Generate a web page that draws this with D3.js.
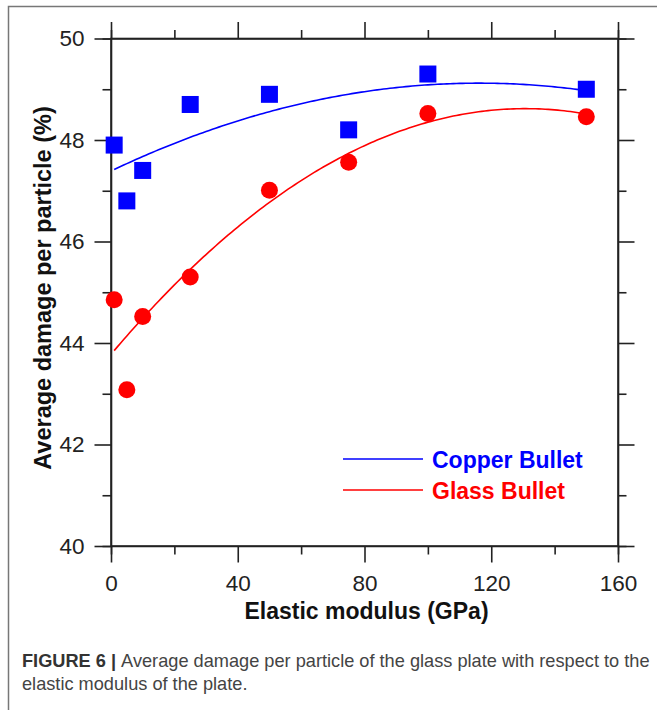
<!DOCTYPE html>
<html>
<head>
<meta charset="utf-8">
<script src="https://cdn.jsdelivr.net/npm/d3@7"></script>
<style>
  body { margin: 0; background: #fff; }
  svg { display: block; font-family: "Liberation Sans", Arial, sans-serif; }
</style>
</head>
<body>
<div id="chart"></div>
<script>
///////////////////// Data ////////////////////////
var modulus = [1, 5, 10, 25, 50, 75, 100, 150];
var copper = [47.9, 46.8, 47.4, 48.7, 48.9, 48.2, 49.3, 49.0];
var glass = [44.85, 43.08, 44.52, 45.3, 47.01, 47.56, 48.52, 48.46];

var xTicks = [0, 40, 80, 120, 160];
var yTicks = [40, 42, 44, 46, 48, 50];
var seriesNames = ["Copper Bullet", "Glass Bullet"];
var seriesColors = ["#0000ff", "#ff0000"];
//////////////////////////////////////////////////

var width = 657, height = 710;
var margin = {left: 111, right: 657 - 618, top: 38.5, bottom: 710 - 546};

var x = d3.scaleLinear().domain([0, 160]).range([margin.left, width - margin.right]);
var y = d3.scaleLinear().domain([40, 50]).range([height - margin.bottom, margin.top]);

var svg = d3.select("#chart").append("svg")
    .attr("width", width)
    .attr("height", height);

// figure frame (top + left border)
svg.append("path")
    .attr("d", "M8.5,710 V6.5 H657")
    .attr("fill", "none")
    .attr("stroke", "#777")
    .attr("stroke-width", 1.5);

// quadratic least squares fit, like the trend lines in the figure
var quadFit = function(xs, ys) {
    var n = xs.length, s = [0, 0, 0, 0, 0], t = [0, 0, 0];
    for (var i = 0; i < n; i++) {
        for (var k = 0; k < 5; k++) s[k] += Math.pow(xs[i], k);
        for (var k = 0; k < 3; k++) t[k] += ys[i] * Math.pow(xs[i], k);
    }
    // solve 3x3 normal equations (Cramer)
    var A = [[s[0], s[1], s[2]], [s[1], s[2], s[3]], [s[2], s[3], s[4]]];
    var det = function(m) {
        return m[0][0] * (m[1][1] * m[2][2] - m[1][2] * m[2][1])
             - m[0][1] * (m[1][0] * m[2][2] - m[1][2] * m[2][0])
             + m[0][2] * (m[1][0] * m[2][1] - m[1][1] * m[2][0]);
    };
    var D = det(A), coef = [];
    for (var c = 0; c < 3; c++) {
        var M = A.map(function(row, r) { return row.map(function(v, j) { return j === c ? t[r] : v; }); });
        coef.push(det(M) / D);
    }
    return function(v) { return coef[0] + coef[1] * v + coef[2] * v * v; };
};

var g = svg.append("g");

// axes: bottom/left labelled, top/right ticks only
var tickStyle = function(sel) {
    sel.select(".domain").attr("stroke", "#222").attr("stroke-width", 1.6);
    sel.selectAll("line").attr("stroke", "#222").attr("stroke-width", 1.6);
    sel.selectAll("text").attr("fill", "#222")
        .style("font-size", "22.5px")
        .style("font-family", "'Liberation Sans', Arial, sans-serif");
};

var xMinor = d3.range(0, 161, 20).filter(function(d) { return d % 40; });
var yMinor = d3.range(40, 51, 1).filter(function(d) { return d % 2; });

var axisSet = [
    {axis: d3.axisBottom(x), tr: "translate(0," + y(40) + ")", minor: xMinor, labels: true, major: xTicks, pad: 13},
    {axis: d3.axisTop(x), tr: "translate(0," + y(50) + ")", minor: xMinor, labels: false, major: xTicks, pad: 8},
    {axis: d3.axisLeft(y), tr: "translate(" + x(0) + ",0)", minor: yMinor, labels: true, major: yTicks, pad: 10},
    {axis: d3.axisRight(y), tr: "translate(" + x(160) + ",0)", minor: yMinor, labels: false, major: yTicks, pad: 8}
];

axisSet.forEach(function(a) {
    // minor ticks first
    g.append("g").attr("transform", a.tr)
        .call(a.axis.tickValues(a.minor).tickSize(8.5).tickFormat(""))
        .call(tickStyle);
    var ax = g.append("g").attr("transform", a.tr)
        .call(a.axis.tickValues(a.major).tickSize(16.5).tickPadding(a.pad)
              .tickFormat(a.labels ? d3.format("d") : ""))
        .call(tickStyle);
    ax.select(".domain").attr("d", null);
});

// frame lines
g.append("rect")
    .attr("x", x(0)).attr("y", y(50))
    .attr("width", x(160) - x(0)).attr("height", y(40) - y(50))
    .attr("fill", "none").attr("stroke", "#222").attr("stroke-width", 1.6);

// axis titles
svg.append("text")
    .attr("x", (x(0) + x(160)) / 2 + 2)
    .attr("y", 618.5)
    .attr("text-anchor", "middle")
    .style("font-size", "23px").style("font-weight", "bold")
    .attr("fill", "#111")
    .text("Elastic modulus (GPa)");

svg.append("text")
    .attr("transform", "translate(50.5," + 288 + ") rotate(-90)")
    .attr("text-anchor", "middle")
    .style("font-size", "23.5px").style("font-weight", "bold")
    .attr("fill", "#111")
    .text("Average damage per particle (%)");

// fit curves
var series = [copper, glass];
var line = d3.line().x(function(d) { return x(d[0]); }).y(function(d) { return y(d[1]); }).curve(d3.curveLinear);

series.forEach(function(vals, i) {
    var f = quadFit(modulus, vals);
    var pts = d3.range(modulus[0], modulus[modulus.length - 1] + 0.5, 1).map(function(v) { return [v, f(v)]; });
    g.append("path")
        .attr("d", line(pts))
        .attr("fill", "none")
        .attr("stroke", seriesColors[i])
        .attr("stroke-width", 1.6);
});

// markers
g.selectAll(".sq").data(modulus).enter().append("rect")
    .attr("x", function(d) { return x(d) - 8.5; })
    .attr("y", function(d, i) { return y(copper[i]) - 8.5; })
    .attr("width", 17).attr("height", 17)
    .attr("fill", seriesColors[0]);

g.selectAll(".ci").data(modulus).enter().append("circle")
    .attr("cx", function(d) { return x(d); })
    .attr("cy", function(d, i) { return y(glass[i]); })
    .attr("r", 8.5)
    .attr("fill", seriesColors[1]);

// legend
seriesNames.forEach(function(name, i) {
    var ly = 459 + i * 31;
    svg.append("line")
        .attr("x1", 343).attr("x2", 423)
        .attr("y1", ly).attr("y2", ly)
        .attr("stroke", seriesColors[i]).attr("stroke-width", 1.6);
    svg.append("text")
        .attr("x", 432).attr("y", ly + 8.5)
        .style("font-size", "23px").style("font-weight", "bold")
        .attr("fill", seriesColors[i])
        .text(name);
});

// caption
var cap = svg.append("text")
    .attr("x", 22).attr("y", 667)
    .style("font-size", "18.2px")
    .attr("fill", "#444");
cap.append("tspan").style("font-weight", "bold").attr("fill", "#333").text("FIGURE 6 | ");
cap.append("tspan").text("Average damage per particle of the glass plate with respect to the");

svg.append("text")
    .attr("x", 22).attr("y", 690)
    .style("font-size", "18.2px")
    .attr("fill", "#444")
    .text("elastic modulus of the plate.");
</script>
</body>
</html>
